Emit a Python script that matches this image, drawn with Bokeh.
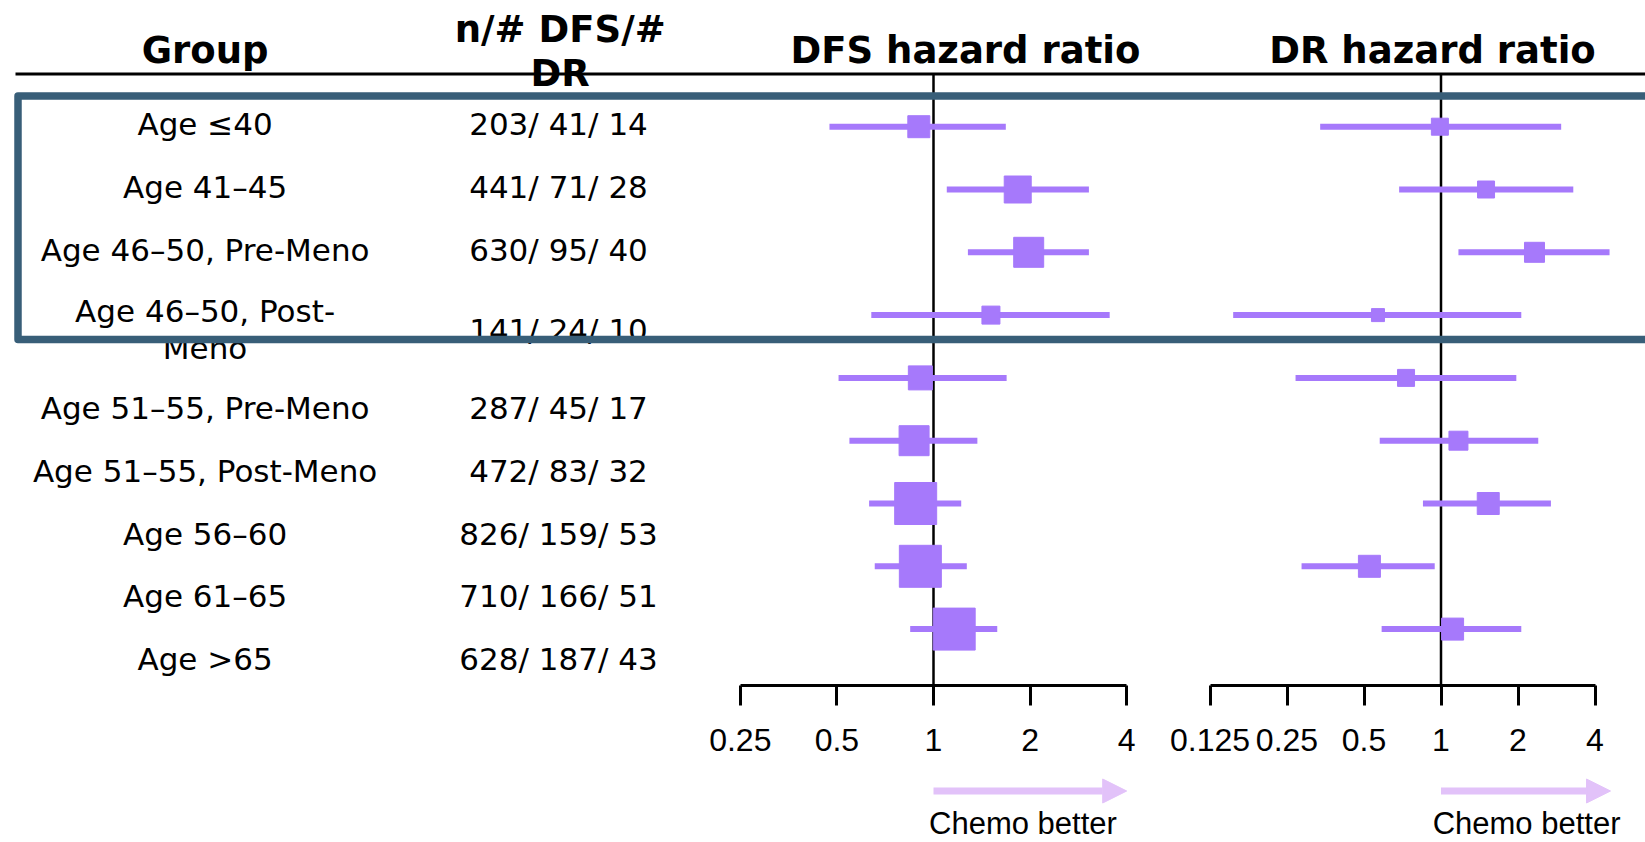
import math
from bokeh.plotting import figure
from bokeh.models import (Range1d, LogScale, LogAxis, FixedTicker, CustomJSTickFormatter,
                          Arrow, NormalHead, ColumnDataSource)
from bokeh.core.properties import value
from bokeh.embed import file_html
from bokeh.resources import INLINE

# ---------------- data ----------------
groups = ["Age ≤40", "Age 41–45", "Age 46–50, Pre-Meno", "Age 46–50, Post-\nMeno",
          "Age 51–55, Pre-Meno", "Age 51–55, Post-Meno", "Age 56–60", "Age 61–65", "Age >65"]
n_patients = [203, 441, 630, 141, 287, 472, 826, 710, 628]
dfs_events = [41, 71, 95, 24, 45, 83, 159, 166, 187]
dr_events = [14, 28, 40, 10, 17, 32, 53, 51, 43]

dfs_hr = [0.90, 1.83, 1.98, 1.51, 0.91, 0.87, 0.88, 0.91, 1.16]
dfs_lo = [0.474, 1.10, 1.28, 0.64, 0.506, 0.547, 0.63, 0.656, 0.846]
dfs_hi = [1.68, 3.05, 3.05, 3.54, 1.69, 1.37, 1.22, 1.27, 1.58]

dr_hr = [0.99, 1.50, 2.32, 0.567, 0.73, 1.17, 1.53, 0.525, 1.11]
dr_lo = [0.337, 0.686, 1.17, 0.154, 0.27, 0.576, 0.85, 0.285, 0.586]
dr_hi = [2.95, 3.29, 4.56, 2.06, 1.97, 2.40, 2.69, 0.945, 2.06]

dfs_ticks = [0.25, 0.5, 1, 2, 4]
dr_ticks = [0.125, 0.25, 0.5, 1, 2, 4]

# ---------------- styles / layout ----------------
dfs_box_px = [22, 27, 30, 18, 24, 30, 42, 42, 42]
dr_box_px = [17, 17, 20, 13, 17, 19, 22, 22, 22]
label_offset = [-0.04, -0.04, -0.04, 0.23, 0.48, 0.48, 0.48, 0.48, 0.48]

PURPLE = "#a679fb"
BOX = "#385e78"
ARROW = "#e2c2f9"
LABEL_FONT = "DejaVu Sans"
HEAD_FONT = "DejaVu Sans"
AX_FONT = "Liberation Sans"

W, H = 1645, 842
ROW0, ROWH = 126.2, 62.8


def ry(page_y):
    return (page_y - ROW0) / ROWH


def fx(page_x):
    return page_x


def log_range(one_px, px_per_doubling):
    return Range1d(2 ** (-one_px / px_per_doubling), 2 ** ((W - one_px) / px_per_doubling))


p = figure(width=W, height=H, x_range=Range1d(0, W),
           y_range=Range1d((H - ROW0) / ROWH, -ROW0 / ROWH),
           output_backend="svg", toolbar_location=None,
           x_axis_location=None, y_axis_location=None,
           min_border=0, outline_line_color=None)
p.xgrid.visible = False
p.ygrid.visible = False
p.extra_x_ranges = {"dfs": log_range(933, 96.6), "dr": log_range(1440.5, 77.0)}
p.extra_x_scales = {"dfs": LogScale(), "dr": LogScale()}

rows = list(range(len(groups)))
src = ColumnDataSource(dict(
    row=rows, dfs_hr=dfs_hr, dfs_lo=dfs_lo, dfs_hi=dfs_hi,
    dr_hr=dr_hr, dr_lo=dr_lo, dr_hi=dr_hi,
    dfs_px=dfs_box_px, dr_px=dr_box_px,
    label=groups,
    counts=[f"{a}/ {b}/ {c}" for a, b, c in zip(n_patients, dfs_events, dr_events)],
    label_y=[r + o for r, o in zip(rows, label_offset)],
))

# table text
p.text(x=fx(204.6), y="label_y", text="label", source=src, text_align="center",
       text_baseline="middle", text_font=value(LABEL_FONT), text_font_size="31px",
       text_color="black", text_line_height=1.05)
p.text(x=fx(558), y="label_y", text="counts", source=src, text_align="center",
       text_baseline="middle", text_font=value(LABEL_FONT), text_font_size="31px",
       text_color="black")

# headers
head_kw = dict(text_align="center", text_baseline="middle", text_font=value(HEAD_FONT),
               text_font_style="bold", text_font_size="37px", text_color="black")
p.text(x=[fx(204.6), fx(965), fx(1432)], y=[ry(50)] * 3,
       text=["Group", "DFS hazard ratio", "DR hazard ratio"], **head_kw)
p.text(x=[fx(559.7), fx(559.7)], y=[ry(29.4), ry(73.4)], text=["n/# DFS/#", "DR"], **head_kw)

# top rule
p.segment(x0=[fx(15)], x1=[W + 10], y0=[ry(73.5)], y1=[ry(73.5)], line_color="black", line_width=3)

# reference lines at HR = 1
for name in ("dfs", "dr"):
    p.segment(x0=[1], x1=[1], y0=[ry(74)], y1=[ry(685)], x_range_name=name,
              line_color="black", line_width=2.5)

# CIs and point estimates
p.segment(x0="dfs_lo", x1="dfs_hi", y0="row", y1="row", source=src, x_range_name="dfs",
          line_color=PURPLE, line_width=6)
p.scatter(x="dfs_hr", y="row", size="dfs_px", marker="square", source=src, x_range_name="dfs",
          fill_color=PURPLE, line_color=PURPLE, line_width=1, line_join="round")
p.segment(x0="dr_lo", x1="dr_hi", y0="row", y1="row", source=src, x_range_name="dr",
          line_color=PURPLE, line_width=6)
p.scatter(x="dr_hr", y="row", size="dr_px", marker="square", source=src, x_range_name="dr",
          fill_color=PURPLE, line_color=PURPLE, line_width=1, line_join="round")

# highlight box
p.quad(left=[fx(17.5)], right=[W + 30], top=[ry(95.5)], bottom=[ry(339)],
       fill_color=None, line_color=BOX, line_width=7.5, line_join="round")

# axes
for name, ticks in (("dfs", dfs_ticks), ("dr", dr_ticks)):
    ax = LogAxis(x_range_name=name,
                 ticker=FixedTicker(ticks=ticks, minor_ticks=[]),
                 formatter=CustomJSTickFormatter(code="return tick.toString()"),
                 bounds=(ticks[0], ticks[-1]), fixed_location=ry(685))
    ax.axis_line_width = 3
    ax.axis_line_color = "black"
    ax.major_tick_line_width = 3
    ax.major_tick_line_color = "black"
    ax.major_tick_out = 20
    ax.major_tick_in = 0
    ax.minor_tick_out = 0
    ax.minor_tick_in = 0
    ax.major_label_text_font = AX_FONT
    ax.major_label_text_font_size = "32px"
    ax.major_label_text_color = "black"
    ax.major_label_standoff = 23
    p.add_layout(ax, "below")

# "Chemo better" arrows
arrow_end = {"dfs": 4.0, "dr": 4.6}
text_x = {"dfs": 1.9, "dr": 2.16}
for name in ("dfs", "dr"):
    p.add_layout(Arrow(x_start=1, x_end=arrow_end[name], y_start=ry(790.5), y_end=ry(790.5),
                       x_range_name=name, line_color=ARROW, line_width=7,
                       end=NormalHead(size=24, fill_color=ARROW, line_color=ARROW, line_width=1)))
    p.text(x=[text_x[name]], y=[ry(822.5)], text=["Chemo better"], x_range_name=name,
           text_align="center", text_baseline="middle", text_font=value(AX_FONT),
           text_font_size="31px", text_color="black")

open("out.html", "w").write(file_html(p, INLINE))
